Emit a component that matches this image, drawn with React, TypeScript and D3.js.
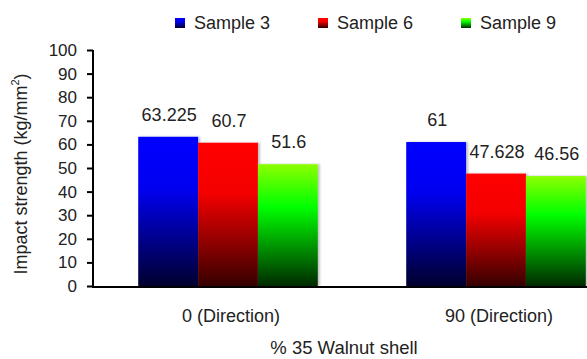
import React, {useEffect, useRef} from 'react';
import * as d3 from 'd3';

const categories = ['0 (Direction)', '90 (Direction)'];
const seriesNames = ['Sample 3', 'Sample 6', 'Sample 9'];
const sample3 = [63.225, 61];
const sample6 = [60.7, 47.628];
const sample9 = [51.6, 46.56];
const yTicks = [0, 10, 20, 30, 40, 50, 60, 70, 80, 90, 100];

const gradients = [
    {id: 'gBlue', stops: [['0%', '#0000ff'], ['35%', '#0000f0'], ['100%', '#00002e']]},
    {id: 'gRed', stops: [['0%', '#ff0000'], ['35%', '#f40000'], ['100%', '#360000']]},
    {id: 'gGreen', stops: [['0%', '#8cff00'], ['35%', '#00ff00'], ['100%', '#002a00']]},
];

const App = () => {
    const ref = useRef<SVGSVGElement>(null);

    useEffect(() => {
        const svg = d3.select(ref.current);
        svg.selectAll('*').remove();

        const font = 'Liberation Sans, Arial, sans-serif';
        const left = 93, top = 50, bottom = 286;
        const data = [sample3, sample6, sample9];

        const defs = svg.append('defs');
        gradients.forEach(g => {
            const lg = defs.append('linearGradient')
                .attr('id', g.id).attr('x1', 0).attr('y1', 0).attr('x2', 0).attr('y2', 1);
            g.stops.forEach(s => lg.append('stop').attr('offset', s[0]).attr('stop-color', s[1]));
        });
        const f = defs.append('filter').attr('id', 'shadow').attr('x', '-10%').attr('width', '130%');
        f.append('feDropShadow').attr('dx', 2).attr('dy', 0).attr('stdDeviation', 1)
            .attr('flood-color', '#000').attr('flood-opacity', 0.25);

        const y = d3.scaleLinear().domain([0, 100]).range([bottom, top]);
        const x0 = d3.scaleBand().domain(categories).range([left + 1, left + 537])
            .paddingInner(0.33).paddingOuter(0.165);
        const x1 = d3.scaleBand().domain(seriesNames).range([0, x0.bandwidth()]);

        // bars + value labels
        categories.forEach((c, ci) => {
            seriesNames.forEach((s, si) => {
                const v = data[si][ci];
                const bx = x0(c)! + x1(s)!;
                svg.append('rect')
                    .attr('x', bx).attr('y', y(v))
                    .attr('width', x1.bandwidth()).attr('height', bottom - y(v))
                    .attr('fill', `url(#${gradients[si].id})`)
                    .attr('filter', 'url(#shadow)');
                svg.append('text')
                    .attr('x', bx + x1.bandwidth() / 2 + 1).attr('y', y(v) - 16)
                    .attr('text-anchor', 'middle')
                    .attr('font-family', font).attr('font-size', 18).attr('fill', '#222')
                    .text(String(v));
            });
        });

        // y axis
        const ya = svg.append('g')
            .attr('transform', `translate(${left},0)`)
            .call(d3.axisLeft(y).tickValues(yTicks).tickSize(6).tickPadding(10).tickFormat(d3.format('d')));
        ya.select('.domain').attr('stroke', '#000').attr('stroke-width', 2).attr('d', `M0,${top}V${bottom}`);
        ya.selectAll('.tick line').attr('stroke', '#000').attr('stroke-width', 2);
        ya.selectAll('.tick text').attr('font-family', font).attr('font-size', 17).attr('fill', '#222');

        // x axis
        svg.append('line')
            .attr('x1', left - 1).attr('x2', 587).attr('y1', bottom + 1).attr('y2', bottom + 1)
            .attr('stroke', '#000').attr('stroke-width', 2);
        categories.forEach(c => {
            svg.append('text')
                .attr('x', x0(c)! + x0.bandwidth() / 2 + 3).attr('y', bottom + 36)
                .attr('text-anchor', 'middle')
                .attr('font-family', font).attr('font-size', 18).attr('fill', '#222')
                .text(c);
        });

        svg.append('text')
            .attr('x', 344).attr('y', 354)
            .attr('text-anchor', 'middle')
            .attr('font-family', font).attr('font-size', 18.5).attr('fill', '#222')
            .text('% 35 Walnut shell');

        const yt = svg.append('text')
            .attr('transform', `translate(27,${(top + bottom) / 2 + 6}) rotate(-90)`)
            .attr('text-anchor', 'middle')
            .attr('font-family', font).attr('font-size', 18).attr('fill', '#222');
        yt.append('tspan').text('Impact strength (kg/mm');
        yt.append('tspan').attr('font-size', 11).attr('dy', -8).text('2');
        yt.append('tspan').attr('dy', 8).text(')');

        // legend
        const legX = [175, 318, 461];
        seriesNames.forEach((s, i) => {
            svg.append('rect')
                .attr('x', legX[i]).attr('y', 18).attr('width', 10).attr('height', 10)
                .attr('fill', `url(#${gradients[i].id})`);
            svg.append('text')
                .attr('x', legX[i] + 19).attr('y', 29)
                .attr('font-family', font).attr('font-size', 18).attr('fill', '#222')
                .text(s);
        });
    }, []);

    return (
        <svg ref={ref} width={587} height={359}
             style={{position: 'absolute', left: 0, top: 0, background: '#fff'}}/>
    );
};

export default App;
